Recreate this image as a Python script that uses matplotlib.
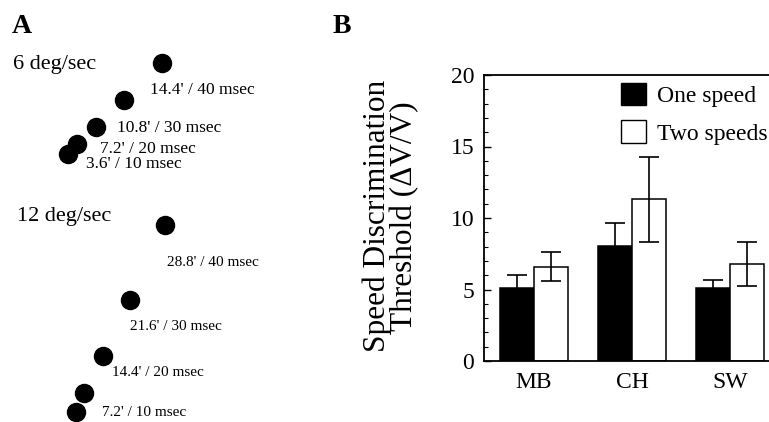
import matplotlib
matplotlib.use('Agg')
import matplotlib.pyplot as plt
from matplotlib.patches import Patch
import numpy as np

plt.rcParams['font.family'] = ['Liberation Serif', 'DejaVu Serif']

# panel A: dot positions in the stimulus sketch (sketch units, y grows down)
slow_x = [68, 77, 96, 124, 162]
slow_y = [154, 144, 127, 100, 63]
slow_labels = ["3.6' / 10 msec", "7.2' / 20 msec", "10.8' / 30 msec", "14.4' / 40 msec"]
slow_label_x = [86, 100, 117, 150]
slow_label_y = [164, 149, 128, 90]

fast_x = [76, 84, 103, 130, 165]
fast_y = [412, 393, 356, 300, 225]
fast_labels = ["7.2' / 10 msec", "14.4' / 20 msec", "21.6' / 30 msec", "28.8' / 40 msec"]
fast_label_x = [102, 112, 130, 167]
fast_label_y = [412, 373, 327, 262]

# panel B: thresholds
subjects = ['MB', 'CH', 'SW']
one_speed = [5.1, 8.05, 5.1]
one_err = [0.9, 1.6, 0.55]
two_speeds = [6.6, 11.3, 6.8]
two_err = [1.0, 3.0, 1.55]

fig = plt.figure(figsize=(7.69, 4.22), dpi=100)

# ---- panel A
axa = fig.add_axes([0, 0, 1, 1])
axa.set_xlim(0, 769)
axa.set_ylim(422, 0)
axa.axis('off')
axa.plot(slow_x, slow_y, 'o', color='black', markersize=13, linestyle='none')
axa.plot(fast_x, fast_y, 'o', color='black', markersize=13, linestyle='none')
for t, x, y in zip(slow_labels, slow_label_x, slow_label_y):
    axa.text(x, y, t, fontsize=12.5, va='center', ha='left')
for t, x, y in zip(fast_labels, fast_label_x, fast_label_y):
    axa.text(x, y, t, fontsize=11, va='center', ha='left')
axa.text(13, 65, '6 deg/sec', fontsize=16, va='center', ha='left')
axa.text(17, 216, '12 deg/sec', fontsize=16, va='center', ha='left')
axa.text(12, 33, 'A', fontsize=20, fontweight='bold', va='baseline', ha='left')
axa.text(333, 33, 'B', fontsize=20, fontweight='bold', va='baseline', ha='left')

# ---- panel B
ax = fig.add_axes([484/769, 1 - 361/422, 305/769, 286/422])
idx = np.arange(len(subjects))
w = 0.345
ax.bar(idx - w/2, one_speed, w, yerr=one_err, color='black', edgecolor='black',
       linewidth=1.1, error_kw=dict(ecolor='black', elinewidth=1.2, capsize=7, capthick=1.2),
       label='One speed')
ax.bar(idx + w/2, two_speeds, w, yerr=two_err, color='white', edgecolor='black',
       linewidth=1.1, error_kw=dict(ecolor='black', elinewidth=1.2, capsize=7, capthick=1.2),
       label='Two speeds')
ax.set_xlim(-0.51, 2.60)
ax.set_ylim(0, 20)
ax.set_yticks([0, 5, 10, 15, 20])
ax.set_yticks(np.arange(0, 21, 1), minor=True)
ax.set_xticks(idx)
ax.set_xticklabels(subjects)
ax.tick_params(axis='y', which='major', direction='in', length=5, width=1, labelsize=17, pad=7)
ax.tick_params(axis='y', which='minor', direction='in', length=3, width=0.8)
ax.tick_params(axis='x', length=0, labelsize=17, pad=8)
for s in ax.spines.values():
    s.set_linewidth(1.3)
fig.text(391/769, 1 - 216/422, 'Speed Discrimination\nThreshold (\u0394V/V)', fontsize=22.5,
         rotation=90, ha='center', va='center', linespacing=0.9)

handles = [Patch(facecolor='black', edgecolor='black'), Patch(facecolor='white', edgecolor='black')]
fig.legend(handles, ['One speed', 'Two speeds'], loc='upper left',
           bbox_to_anchor=(609/769, 1 - 71/422), frameon=False, fontsize=17,
           borderpad=0, handlelength=1.05, handleheight=1.1, handletextpad=0.5,
           labelspacing=0.55)

plt.savefig('out.png', dpi=100)
